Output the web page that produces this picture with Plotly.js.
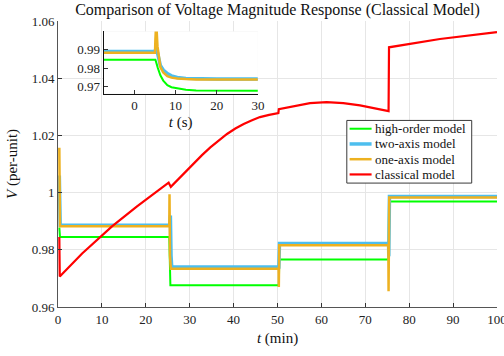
<!DOCTYPE html>
<html>
<head>
<meta charset="utf-8">
<script src="https://cdn.plot.ly/plotly-3.0.1.min.js"></script>
<style>
  html, body { margin: 0; padding: 0; background: #fff; }
  #chart { width: 504px; height: 356px; }
</style>
</head>
<body>
<div id="chart"></div>
<script>
// Bus voltage magnitude over a 100-minute run, four generator models (time in minutes)
const highOrderT = [0.3, 0.45, 25.35, 25.45, 25.6, 50.3, 50.4, 75.3, 75.4, 100];
const highOrderV = [0.9878, 0.9845, 0.9845, 0.9700, 0.9676, 0.9676, 0.9766, 0.9766, 0.9969, 0.9969];

const twoAxisT = [0.3, 0.5, 25.45, 25.6, 25.75, 25.9, 50.3, 50.45, 75.3, 75.35, 75.5, 100];
const twoAxisV = [1.0060, 0.9886, 0.9886, 0.9920, 0.9780, 0.9740, 0.9740, 0.9822, 0.9822, 0.9777, 0.9986, 0.9986];

const oneAxisT = [0.3, 0.45, 25.35, 25.4, 25.5, 25.7, 50.25, 50.3, 50.4, 75.25, 75.3, 75.45, 100];
const oneAxisV = [1.0157, 0.9882, 0.9882, 0.9994, 0.9780, 0.9734, 0.9734, 0.9670, 0.9816, 0.9816, 0.9655, 0.9983, 0.9983];

const classicalT = [0.3, 0.4, 5.5, 9.6, 12.3, 18.0, 25.2, 25.7, 28.3, 30.9, 32.8, 34.7, 36.6, 38.5, 40.4,
                    42.3, 44.2, 46.0, 48.1, 50.2, 50.3, 53.6, 57.4, 61.2, 65.0, 68.8, 72.6, 75.3, 75.4,
                    87.0, 100];
const classicalV = [0.9845, 0.9707, 0.9787, 0.9845, 0.9882, 0.9952, 1.0035, 1.0020, 1.0061, 1.0101, 1.0131,
                    1.0158, 1.0183, 1.0205, 1.0224, 1.0240, 1.0253, 1.0264, 1.0272, 1.0278, 1.0292, 1.0301,
                    1.0313, 1.0316, 1.0313, 1.0305, 1.0293, 1.0285, 1.0508, 1.0537, 1.0561];

// Close-up of the first 30 seconds around the step change (time in seconds)
const zoomHighT = [-7.5, 5.1, 5.7, 6.3, 7.0, 8.0, 9.0, 10.4, 12.5, 15.0, 20.0, 30.0];
const zoomHighV = [0.9846, 0.9846, 0.9800, 0.9761, 0.9732, 0.9707, 0.9696, 0.9689, 0.9682, 0.9678, 0.9676, 0.9676];

const zoomTwoT = [-7.5, 5.0, 5.3, 5.8, 6.3, 7.0, 8.0, 9.0, 10.4, 12.5, 15.0, 20.0, 30.0];
const zoomTwoV = [0.9891, 0.9891, 0.9914, 0.9860, 0.9815, 0.9790, 0.9770, 0.9758, 0.9749, 0.9744, 0.9742, 0.9741, 0.9741];

const zoomOneT = [-7.5, 5.0, 5.1, 5.3, 5.6, 6.3, 7.0, 8.0, 9.0, 10.4, 12.5, 15.0, 30.0];
const zoomOneV = [0.9884, 0.9884, 0.9960, 1.0050, 0.9920, 0.9806, 0.9776, 0.9756, 0.9748, 0.9743, 0.9740, 0.9738, 0.9738];

const xTicks = [0, 10, 20, 30, 40, 50, 60, 70, 80, 90, 100];
const yTicks = [0.96, 0.98, 1.00, 1.02, 1.04, 1.06];
const zoomXTicks = [0, 10, 20, 30];
const zoomYTicks = [0.97, 0.98, 0.99];

const seriesNames = ['high-order model', 'two-axis model', 'one-axis model', 'classical model'];
const seriesColors = ['#00ff00', '#4dbeee', '#edb120', '#ff0000'];
const seriesWidths = [2, 3.5, 2.5, 2.2];

const SERIF = 'Liberation Serif, Times New Roman, serif';

function line(x, y, i, axes) {
  return {
    x: x, y: y, type: 'scatter', mode: 'lines', name: seriesNames[i],
    xaxis: axes[0], yaxis: axes[1], showlegend: false,
    line: { color: seriesColors[i], width: seriesWidths[i] }, hoverinfo: 'skip'
  };
}

const main = ['x', 'y'], inset = ['x2', 'y2'];
const traces = [
  line(highOrderT, highOrderV, 0, main),
  line(twoAxisT, twoAxisV, 1, main),
  line(oneAxisT, oneAxisV, 2, main),
  line(classicalT, classicalV, 3, main),
  line(zoomHighT, zoomHighV, 0, inset),
  line(zoomTwoT, zoomTwoV, 1, inset),
  line(zoomOneT, zoomOneV, 2, inset)
];

// Plot-area geometry in pixels, used to place the boxed key
const W = 504, H = 356;
const M = { l: 57.7, r: 7, t: 20.5, b: 49.3 };
const plotW = W - M.l - M.r, plotH = H - M.t - M.b;
const px = v => (v - M.l) / plotW;
const py = v => (H - M.b - v) / plotH;

const shapes = [{
  type: 'rect', xref: 'x2 domain', yref: 'y2 domain', x0: 0, x1: 1, y0: 0, y1: 1,
  fillcolor: '#e5e5e5', line: { width: 0 }, layer: 'below'
}, {
  type: 'rect', xref: 'paper', yref: 'paper',
  x0: px(346.7), x1: px(471.7), y0: py(182.7), y1: py(120),
  fillcolor: '#ffffff', line: { color: '#3a3a3a', width: 1 }, layer: 'above'
}];
const annotations = [];
const keyRow0 = 128.3, keyStep = 15.25;
seriesNames.forEach((name, i) => {
  const yy = py(keyRow0 + i * keyStep);
  shapes.push({
    type: 'line', xref: 'paper', yref: 'paper', x0: px(349.5), x1: px(371.5), y0: yy, y1: yy,
    line: { color: seriesColors[i], width: seriesWidths[i] }, layer: 'above'
  });
  annotations.push({
    xref: 'paper', yref: 'paper', x: px(373), y: yy, xanchor: 'left', yanchor: 'middle',
    text: name, showarrow: false, font: { family: SERIF, size: 13, color: '#111' }
  });
});

const axisBase = {
  ticks: 'inside', ticklen: 4, tickwidth: 1, tickcolor: '#333',
  showline: true, linecolor: '#555', linewidth: 1,
  zeroline: false, mirror: false, ticklabeloverflow: 'allow',
  tickfont: { family: SERIF, size: 13, color: '#222' }
};

const layout = {
  width: W, height: H,
  margin: M,
  paper_bgcolor: '#ffffff', plot_bgcolor: '#ffffff',
  font: { family: SERIF, color: '#222' },
  title: {
    text: 'Comparison of Voltage Magnitude Response (Classical Model)',
    font: { family: SERIF, size: 16, color: '#111' },
    x: 0.5, xref: 'paper', xanchor: 'center',
    y: 1 - 9.5 / H, yref: 'container', yanchor: 'middle'
  },
  xaxis: Object.assign({}, axisBase, {
    domain: [0, 1], range: [0, 100], tickvals: xTicks,
    showgrid: true, gridcolor: '#e6e6e6', gridwidth: 1,
    title: { text: '<i>t</i> (min)', font: { family: SERIF, size: 15, color: '#111' }, standoff: 6 }
  }),
  yaxis: Object.assign({}, axisBase, {
    domain: [0, 1], range: [0.96, 1.06], tickvals: yTicks,
    showgrid: true, gridcolor: '#e6e6e6', gridwidth: 1,
    title: { text: '<i>V</i> (per-unit)', font: { family: SERIF, size: 15, color: '#111' }, standoff: 10 }
  }),
  xaxis2: Object.assign({}, axisBase, {
    anchor: 'y2', domain: [0.1038, 0.4553], range: [-7.5, 30], tickvals: zoomXTicks,
    showgrid: true, gridcolor: 'rgba(255,255,255,0.55)', linecolor: '#111',
    title: { text: '<i>t</i> (s)', font: { family: SERIF, size: 15, color: '#111' }, standoff: 4 }
  }),
  yaxis2: Object.assign({}, axisBase, {
    anchor: 'x2', domain: [0.7456, 0.9633], range: [0.966, 1.0], tickvals: zoomYTicks,
    showgrid: true, gridcolor: 'rgba(255,255,255,0.55)', linecolor: '#111'
  }),
  shapes: shapes,
  annotations: annotations,
  showlegend: false
};

Plotly.newPlot('chart', traces, layout, { displayModeBar: false, staticPlot: true });
</script>
</body>
</html>
